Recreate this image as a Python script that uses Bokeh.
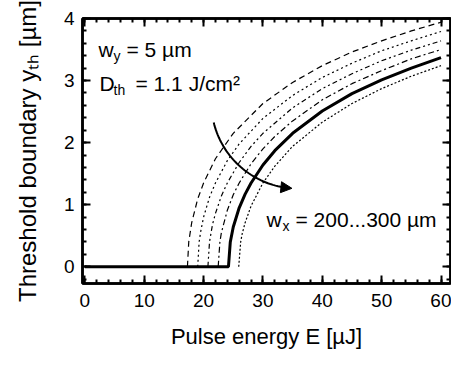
import numpy as np
from bokeh.plotting import figure
from bokeh.models import (LinearAxis, SingleIntervalTicker, Label, Arrow, NormalHead,
                          CustomJSTickFormatter, Range1d)
from bokeh.embed import file_html
from bokeh.resources import INLINE

# ---------------- data ----------------
wx_values = [200, 220, 240, 260, 280, 300]   # beam width w_x in µm (one curve each)

E_wx200 = [17.28, 17.5, 18, 19, 20, 22, 25, 30, 35, 40, 45, 50, 55, 60]
Y_wx200 = [0.00, 0.40, 0.71, 1.09, 1.35, 1.74, 2.15, 2.63, 2.97, 3.24, 3.46, 3.64, 3.80, 3.94]

E_wx220 = [19.01, 19.25, 19.5, 20, 21, 22, 24, 26, 30, 35, 40, 45, 50, 55, 60]
Y_wx220 = [0.00, 0.40, 0.56, 0.80, 1.12, 1.35, 1.71, 1.98, 2.39, 2.76, 3.05, 3.28, 3.48, 3.64, 3.79]

E_wx240 = [20.73, 21, 21.5, 22, 23, 24, 26, 28, 30, 35, 40, 45, 50, 55, 60]
Y_wx240 = [0.00, 0.40, 0.68, 0.86, 1.14, 1.35, 1.68, 1.94, 2.15, 2.56, 2.87, 3.11, 3.32, 3.49, 3.64]

E_wx260 = [22.46, 22.75, 23, 24, 25, 26, 28, 30, 32, 35, 40, 45, 50, 55, 60]
Y_wx260 = [0.00, 0.40, 0.55, 0.91, 1.16, 1.35, 1.66, 1.90, 2.10, 2.35, 2.69, 2.95, 3.16, 3.35, 3.50]

E_wx280 = [0, 24.19, 24.5, 25, 26, 27, 28, 30, 32, 35, 40, 45, 50, 55, 60]
Y_wx280 = [0.00, 0.00, 0.40, 0.64, 0.95, 1.17, 1.35, 1.64, 1.87, 2.15, 2.51, 2.79, 3.01, 3.20, 3.37]

E_wx300 = [25.92, 26.25, 26.5, 27, 28, 30, 32, 35, 40, 45, 50, 55, 60]
Y_wx300 = [0.00, 0.40, 0.53, 0.71, 0.98, 1.35, 1.62, 1.94, 2.33, 2.63, 2.87, 3.07, 3.24]

x_major = 10
y_major = 1

# ---------------- styles ----------------
FONT = "Liberation Sans"
DASHES = ["6 4", "2 3", "5 3 2 3 2 3", "6 3 2 3", "solid", "2 2"]
WIDTHS = [1.2, 1.2, 1.2, 1.2, 3.0, 1.2]

p = figure(width=451, height=351,
           x_range=Range1d(-0.4, 61.6), y_range=Range1d(-0.27, 4.0),
           output_backend="svg", toolbar_location=None,
           min_border_left=82, min_border_right=1, min_border_top=18, min_border_bottom=64)
p.background_fill_color = "white"
p.border_fill_color = "white"
p.outline_line_color = "black"
p.outline_line_width = 2.5
p.xgrid.visible = False
p.ygrid.visible = False

curves = [(E_wx200, Y_wx200), (E_wx220, Y_wx220), (E_wx240, Y_wx240),
          (E_wx260, Y_wx260), (E_wx280, Y_wx280), (E_wx300, Y_wx300)]
for (E, Y), dash, w in zip(curves, DASHES, WIDTHS):
    p.line(E, Y, line_color="black", line_width=w, line_dash=dash)

def style_axis(ax, labels=True):
    ax.axis_line_width = 2.5
    ax.axis_line_color = "black"
    ax.major_tick_in = 8
    ax.major_tick_out = 0
    ax.minor_tick_in = 4
    ax.minor_tick_out = 0
    ax.major_tick_line_width = 2
    ax.minor_tick_line_width = 2
    ax.major_tick_line_color = "black"
    ax.minor_tick_line_color = "black"
    if labels:
        ax.major_label_text_font = FONT
        ax.major_label_text_font_size = "19px"
        ax.major_label_text_color = "black"
    else:
        ax.formatter = CustomJSTickFormatter(code="return ''")
        ax.major_label_text_font_size = "0px"
        ax.major_label_standoff = 0

xt = SingleIntervalTicker(interval=x_major, num_minor_ticks=5)
yt = SingleIntervalTicker(interval=y_major, num_minor_ticks=5)

xa = p.xaxis[0]
xa.ticker = xt
style_axis(xa)
xa.major_label_standoff = 10
xa.axis_label = "Pulse energy E [µJ]"
xa.axis_label_text_font = FONT
xa.axis_label_text_font_size = "22px"
xa.axis_label_text_font_style = "normal"
xa.axis_label_text_color = "black"
xa.axis_label_standoff = 14

ya = p.yaxis[0]
ya.ticker = yt
style_axis(ya)
ya.major_label_standoff = 8
ya.axis_label = "Threshold boundary yₜₕ [µm]"
ya.axis_label_text_font = FONT
ya.axis_label_text_font_size = "24px"
ya.axis_label_text_font_style = "normal"
ya.axis_label_text_color = "black"
ya.axis_label_standoff = 20

top = LinearAxis(ticker=SingleIntervalTicker(interval=x_major, num_minor_ticks=5))
style_axis(top, labels=False)
p.add_layout(top, "above")
right = LinearAxis(ticker=SingleIntervalTicker(interval=y_major, num_minor_ticks=5))
style_axis(right, labels=False)
p.add_layout(right, "right")

# ---------------- annotations inside the frame ----------------
AF = "21px"
SF = "14px"
akw = dict(x_units="screen", y_units="screen", text_font=FONT, text_color="black",
           text_baseline="alphabetic", text_align="left")
p.add_layout(Label(x=16, y=234, text="w", text_font_size=AF, **akw))
p.add_layout(Label(x=31, y=228, text="y", text_font_size=SF, **akw))
p.add_layout(Label(x=44, y=234, text="= 5 µm", text_font_size=AF, **akw))

p.add_layout(Label(x=17, y=200, text="D", text_font_size=AF, **akw))
p.add_layout(Label(x=31, y=194, text="th", text_font_size=SF, **akw))
p.add_layout(Label(x=53, y=200, text="= 1.1 J/cm²", text_font_size=AF, **akw))

p.add_layout(Label(x=184, y=64, text="w", text_font_size=AF, **akw))
p.add_layout(Label(x=200, y=58, text="x", text_font_size=SF, **akw))
p.add_layout(Label(x=213, y=64, text="= 200...300 µm", text_font_size=AF, **akw))

# ---------------- curved arrow (direction of increasing w_x) ----------------
cx, cy, rx, ry = 35.9, 2.65, 14.6, 1.39
th = np.radians(np.linspace(193.6, 262.0, 40))
p.line(cx + rx * np.cos(th), cy + ry * np.sin(th), line_color="black", line_width=2)
t0, t1 = np.radians(262.0), np.radians(266.0)
p.add_layout(Arrow(end=NormalHead(size=11, fill_color="black", line_color="black"),
                   x_start=cx + rx * np.cos(t0), y_start=cy + ry * np.sin(t0),
                   x_end=cx + rx * np.cos(t1), y_end=cy + ry * np.sin(t1),
                   line_color="black", line_width=2))

open("out.html", "w").write(file_html(p, INLINE))
